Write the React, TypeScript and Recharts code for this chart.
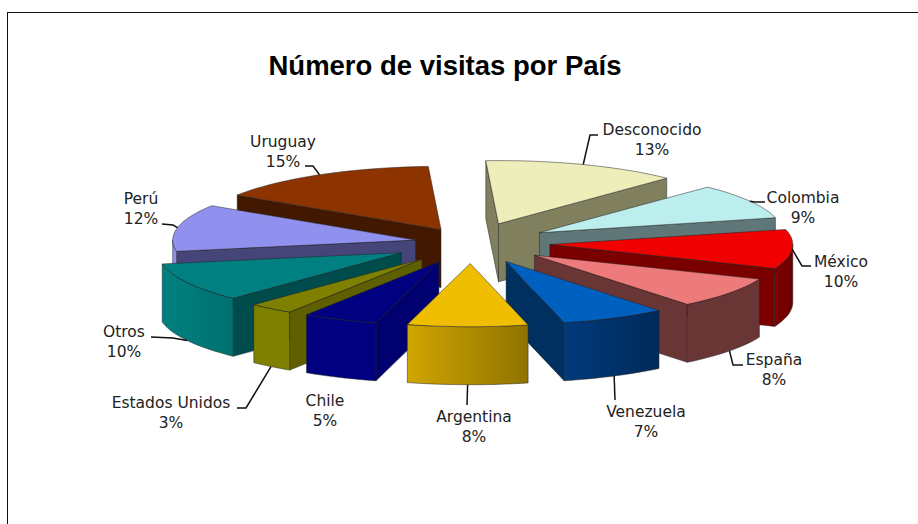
import React from "react";
import { PieChart, Pie } from "recharts";

const COUNTRIES = ["Desconocido", "Colombia", "México", "España", "Venezuela", "Argentina", "Chile", "Estados Unidos", "Otros", "Perú", "Uruguay"];
const SHARES = [13, 9, 10, 8, 7, 8, 5, 3, 10, 12, 15];
const EXPLODE = [0.325, 0.325, 0.325, 0.325, 0.325, 0.325, 0.325, 0.325, 0.325, 0.232, 0.247];
const TOP_COLORS = ["#EEEEBB", "#BDEEEE", "#F00000", "#EE7B7B", "#0060C0", "#F0BE00", "#000080", "#808000", "#008080", "#9090EE", "#8C3300"];
const EDGE_COLORS = ["#80805F", "#5F7778", "#7A0000", "#693535", "#00305F", "#B08C00", "#000070", "#5F5F00", "#004C4C", "#45457A", "#421800"];
const OUTER_LEFT = ["#80805F", "#5F7778", "#7F0000", "#693535", "#003A7A", "#D0A500", "#000080", "#808000", "#008080", "#9090EE", "#421800"];
const OUTER_RIGHT = ["#80805F", "#5F7778", "#6A0000", "#693535", "#002A5A", "#8F7300", "#000080", "#808000", "#007070", "#9090EE", "#421800"];

const data = COUNTRIES.map((name, i) => ({ name, value: SHARES[i], idx: i }));
const reversed = [...data].reverse();

const LABEL_POS: Record<string, { x: number; y: number; elbow?: number[][] }> = {
  Desconocido: { x: 652, y: 135, elbow: [[598, 135], [590, 135]] },
  Colombia: { x: 803, y: 203, elbow: [[765, 202], [755, 202]] },
  "México": { x: 841, y: 267, elbow: [[811, 266], [802, 266]] },
  "España": { x: 774, y: 365, elbow: [[743, 365], [733, 365]] },
  Venezuela: { x: 646, y: 417, elbow: [[615, 400]] },
  Argentina: { x: 474, y: 422, elbow: [[467, 405]] },
  Chile: { x: 325, y: 406 },
  "Estados Unidos": { x: 171, y: 408, elbow: [[237, 408], [246, 408]] },
  Otros: { x: 124, y: 337, elbow: [[151, 337], [173, 338]] },
  "Perú": { x: 141, y: 204, elbow: [[162, 224], [173, 225]] },
  Uruguay: { x: 283, y: 147, elbow: [[305, 166], [313, 166]] },
};

const TILT = 0.26;
const DEPTH = 58;
const rad = (d: number) => (d * Math.PI) / 180;
const point = (cx: number, cy: number, r: number, a: number, e: number, mid: number, h = 0) => {
  const x = cx + r * e * Math.sin(rad(mid)) + r * Math.sin(rad(a));
  const y = cy - r * TILT * e * Math.cos(rad(mid)) - r * TILT * Math.cos(rad(a)) + h;
  return [x, y];
};
const toD = (pts: number[][]) => "M" + pts.map((p) => `${p[0].toFixed(1)},${p[1].toFixed(1)}`).join("L") + "Z";

const clockAngles = (p: any) => {
  const a = 90 - p.startAngle;
  const b = 90 - p.endAngle;
  let a0 = Math.min(a, b);
  let a1 = Math.max(a, b);
  if (a0 < -3.01) {
    a0 += 360;
    a1 += 360;
  }
  return [a0, a1];
};

const Slice3D = (side: "right" | "left") => (p: any) => {
  const [a0, a1] = clockAngles(p);
  const mid = (a0 + a1) / 2;
  const isRight = mid < 165;
  if ((side === "right") !== isRight) return <g />;
  const i = COUNTRIES.indexOf(p.name);
  const e = EXPLODE[i];
  const { cx, cy, outerRadius: R } = p;
  const shift = [R * e * Math.sin(rad(mid)), -R * TILT * e * Math.cos(rad(mid))];
  const A = [cx + shift[0], cy + shift[1]];
  const arc = (from: number, to: number, h = 0) => {
    const pts: number[][] = [];
    const n = Math.max(2, Math.ceil((to - from) / 2));
    for (let k = 0; k <= n; k++) pts.push(point(cx, cy, R, from + ((to - from) * k) / n, e, mid, h));
    return pts;
  };
  const down = (q: number[]) => [q[0], q[1] + DEPTH];
  const P0 = point(cx, cy, R, a0, e, mid);
  const P1 = point(cx, cy, R, a1, e, mid);
  const showA0 = Math.sin(rad(a0)) < 0;
  const showA1 = Math.sin(rad(a1)) > 0;
  const lo = Math.max(a0, 90);
  const hi = Math.min(a1, 270);
  const gid = `outer-${i}`;
  const stroke = "#222";
  return (
    <g>
      <defs>
        <linearGradient id={gid} x1="0" y1="0" x2="1" y2="0">
          <stop offset="0%" stopColor={OUTER_LEFT[i]} />
          <stop offset="100%" stopColor={OUTER_RIGHT[i]} />
        </linearGradient>
      </defs>
      {showA0 && <path d={toD([A, P0, down(P0), down(A)])} fill={EDGE_COLORS[i]} stroke={stroke} strokeWidth={0.5} />}
      {showA1 && <path d={toD([A, P1, down(P1), down(A)])} fill={EDGE_COLORS[i]} stroke={stroke} strokeWidth={0.5} />}
      {hi > lo && (
        <path d={toD([...arc(lo, hi), ...arc(lo, hi, DEPTH).reverse()])} fill={`url(#${gid})`} stroke={stroke} strokeWidth={0.5} />
      )}
      <path d={toD([A, ...arc(a0, a1)])} fill={TOP_COLORS[i]} stroke={stroke} strokeWidth={0.5} />
    </g>
  );
};

const renderLabel = (p: any) => {
  const pos = LABEL_POS[p.name];
  const i = COUNTRIES.indexOf(p.name);
  const [a0, a1] = clockAngles(p);
  const mid = (a0 + a1) / 2;
  const onWall = mid > 100 && mid < 260;
  const end = point(p.cx, p.cy, p.outerRadius, mid, EXPLODE[i], mid, onWall ? DEPTH : 0);
  const pts = pos.elbow ? [...pos.elbow, end] : null;
  return (
    <g>
      {pts && (
        <polyline points={pts.map((q) => q.join(",")).join(" ")} fill="none" stroke="#111" strokeWidth={1.5} />
      )}
      <text x={pos.x} y={pos.y} textAnchor="middle" fontFamily="DejaVu Sans" fontSize={15.5} fill="#222">
        {p.name}
      </text>
      <text x={pos.x} y={pos.y + 19.5} textAnchor="middle" fontFamily="DejaVu Sans" fontSize={15.5} fill="#222">
        {SHARES[i]}%
      </text>
    </g>
  );
};

export default function App() {
  return (
    <div style={{ position: "absolute", left: 0, top: 0, width: 918, height: 524, background: "#fff", overflow: "hidden" }}>
      <div style={{ position: "absolute", left: 7, top: 12, width: 911, height: 512, borderLeft: "1.5px solid #111", borderTop: "1.5px solid #111", boxSizing: "border-box" }} />
      <div style={{ position: "absolute", left: 145, width: 600, top: 46, textAlign: "center", fontFamily: "Liberation Sans", fontWeight: "bold", fontSize: 27.5, lineHeight: "40px", color: "#000" }}>
        Número de visitas por País
      </div>
      <div style={{ position: "absolute", left: 0, top: 0 }}>
        <PieChart width={918} height={524} margin={{ top: 0, right: 0, bottom: 0, left: 0 }}>
          <Pie data={data} dataKey="value" nameKey="name" cx={471} cy={243} outerRadius={243} innerRadius={0} startAngle={93} endAngle={-267} stroke="none" isAnimationActive={false} shape={Slice3D("right")} labelLine={false} />
          <Pie data={reversed} dataKey="value" nameKey="name" cx={471} cy={243} outerRadius={243} innerRadius={0} startAngle={93} endAngle={453} stroke="none" isAnimationActive={false} shape={Slice3D("left")} label={renderLabel} labelLine={false} />
        </PieChart>
      </div>
    </div>
  );
}
